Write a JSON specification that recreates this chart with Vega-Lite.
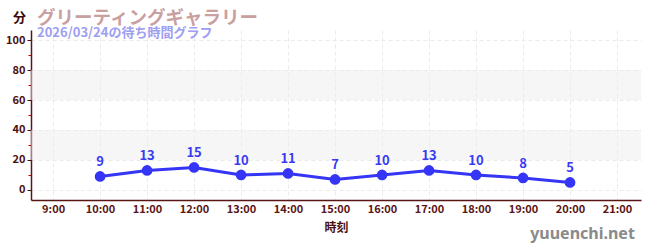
{
  "$schema": "https://vega.github.io/schema/vega-lite/v6.json",
  "width": 610,
  "height": 170,
  "autosize": {"type": "none"},
  "padding": {"left": 31, "top": 30, "right": 9, "bottom": 50},
  "background": "white",
  "config": {"font": "Noto Sans CJK JP", "view": {"stroke": null}},
  "title": {
    "text": "グリーティングギャラリー",
    "subtitle": "2026/03/24の待ち時間グラフ",
    "anchor": "start",
    "frame": "group",
    "dx": 6,
    "offset": -29,
    "fontSize": 18.5,
    "fontWeight": "bold",
    "color": "#c9a0a0",
    "subtitleColor": "#9e9ef2",
    "subtitleFontSize": 13,
    "subtitleFontWeight": "bold",
    "subtitlePadding": 0
  },
  "datasets": {
    "waits": [
      {"hour": 10, "wait": 9},
      {"hour": 11, "wait": 13},
      {"hour": 12, "wait": 15},
      {"hour": 13, "wait": 10},
      {"hour": 14, "wait": 11},
      {"hour": 15, "wait": 7},
      {"hour": 16, "wait": 10},
      {"hour": 17, "wait": 13},
      {"hour": 18, "wait": 10},
      {"hour": 19, "wait": 8},
      {"hour": 20, "wait": 5}
    ],
    "bands": [
      {"lo": 20, "hi": 40},
      {"lo": 60, "hi": 80}
    ]
  },
  "resolve": {"axis": {"x": "independent", "y": "independent"}},
  "layer": [
    {
      "data": {"name": "bands"},
      "mark": {"type": "rect", "color": "#eeeeee", "opacity": 0.5},
      "encoding": {
        "y": {
          "field": "lo", "type": "quantitative",
          "scale": {"domain": [-6.7, 106.7], "nice": false, "zero": false},
          "axis": {
            "orient": "left",
            "values": [10, 30, 50, 70, 90],
            "labels": false, "domain": false, "grid": false,
            "tickColor": "#cc0000", "tickSize": 3, "title": null
          }
        },
        "y2": {"field": "hi"}
      }
    },
    {
      "data": {"name": "waits"},
      "mark": {"type": "line", "color": "#3535f5", "strokeWidth": 3},
      "encoding": {
        "x": {
          "field": "hour", "type": "quantitative",
          "scale": {"domain": [8.53, 21.51], "nice": false, "zero": false},
          "axis": {
            "orient": "bottom",
            "values": [9, 10, 11, 12, 13, 14, 15, 16, 17, 18, 19, 20, 21],
            "labelExpr": "datum.value + ':00'",
            "labelColor": "#5a1515", "labelFontSize": 11, "labelFontWeight": "bold",
            "labelPadding": 3,
            "ticks": false,
            "domainColor": "#5a1515", "domainWidth": 1.5,
            "grid": true, "gridColor": "#ebebeb", "gridDash": [4, 3],
            "title": "時刻", "titleColor": "#4a0f0f", "titleFontSize": 12,
            "titleFontWeight": "bold", "titlePadding": 8
          }
        },
        "y": {
          "field": "wait", "type": "quantitative",
          "scale": {"domain": [-6.7, 106.7], "nice": false, "zero": false},
          "axis": {
            "orient": "left",
            "values": [0, 20, 40, 60, 80, 100],
            "labelColor": "#4a0f0f", "labelFontSize": 11, "labelFontWeight": "bold",
            "labelPadding": 2,
            "tickColor": "#4a0f0f", "tickSize": 4,
            "domainColor": "#5a1515", "domainWidth": 1.5,
            "grid": true, "gridColor": "#ebebeb", "gridDash": [4, 3],
            "title": "分", "titleAngle": 0, "titleX": -12, "titleY": -13,
            "titleAlign": "center", "titleBaseline": "middle",
            "titleColor": "#3a0a0a", "titleFontSize": 13, "titleFontWeight": "bold"
          }
        }
      }
    },
    {
      "data": {"name": "waits"},
      "mark": {"type": "point", "filled": true, "opacity": 1, "color": "#3535f5", "size": 115},
      "encoding": {
        "x": {"field": "hour", "type": "quantitative", "axis": null},
        "y": {
          "field": "wait", "type": "quantitative",
          "axis": {
            "orient": "right",
            "labels": false, "ticks": false, "domain": false, "grid": false,
            "title": "yuuenchi.net", "titleAngle": 0, "titleX": -59, "titleY": 203,
            "titleAlign": "center", "titleBaseline": "middle",
            "titleColor": "#8a8a8a", "titleFontSize": 16, "titleFontWeight": "bold",
            "titleFont": "Noto Sans"
          }
        }
      }
    },
    {
      "data": {"name": "waits"},
      "mark": {"type": "text", "color": "#3a3af5", "fontSize": 13, "fontWeight": "bold", "dy": -14},
      "encoding": {
        "x": {"field": "hour", "type": "quantitative", "axis": null},
        "y": {"field": "wait", "type": "quantitative", "axis": null},
        "text": {"field": "wait", "type": "quantitative"}
      }
    }
  ]
}
